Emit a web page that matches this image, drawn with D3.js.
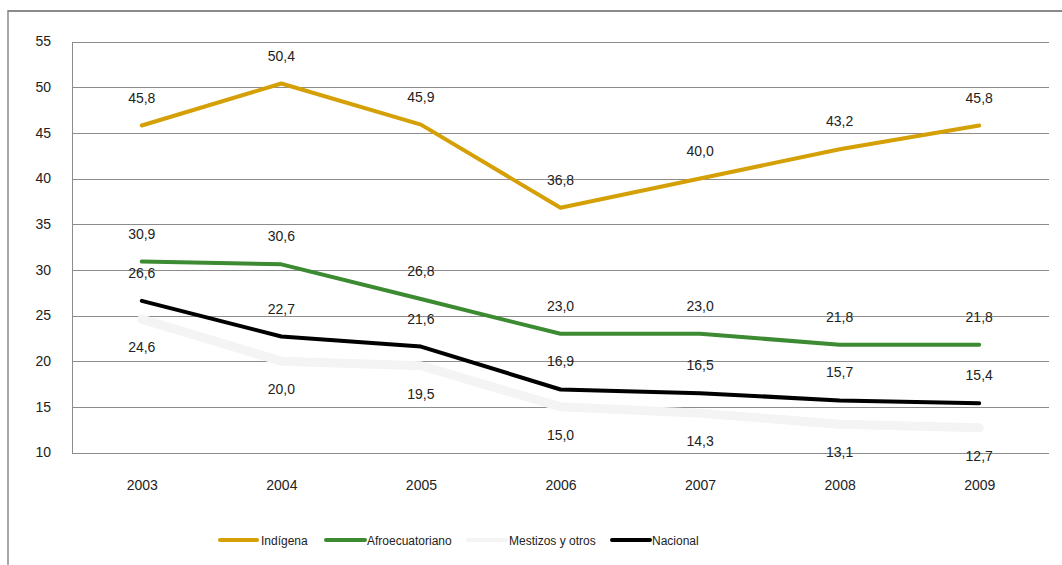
<!DOCTYPE html>
<html><head><meta charset="utf-8">
<script src="https://cdn.jsdelivr.net/npm/d3@7"></script>
<style>
html,body{margin:0;padding:0;background:#fff;}
svg{display:block;font-family:"Liberation Sans",Arial,sans-serif;}
</style></head>
<body>
<svg id="chart" width="1062" height="565"></svg>
<script>
const years = ["2003","2004","2005","2006","2007","2008","2009"];
const yTicks = [10,15,20,25,30,35,40,45,50,55];
const indigena = [45.8,50.4,45.9,36.8,40.0,43.2,45.8];
const afro = [30.9,30.6,26.8,23.0,23.0,21.8,21.8];
const mestizos = [24.6,20.0,19.5,15.0,14.3,13.1,12.7];
const nacional = [26.6,22.7,21.6,16.9,16.5,15.7,15.4];
const seriesNames = ["Indígena","Afroecuatoriano","Mestizos y otros","Nacional"];

const series = [
  {name:seriesNames[0], values:indigena, color:"#D4A006", width:4, labelPos:"above"},
  {name:seriesNames[1], values:afro, color:"#3C8A32", width:4, labelPos:"above"},
  {name:seriesNames[2], values:mestizos, color:"#F4F4F4", width:9, labelPos:"below"},
  {name:seriesNames[3], values:nacional, color:"#000000", width:4, labelPos:"above"}
];

const svg = d3.select("#chart");
const pLeft = 72, pRight = 1049, pTop = 41.5, pBottom = 452.5;

const x = d3.scalePoint().domain(years).range([pLeft, pRight]).padding(0.5);
const y = d3.scaleLinear().domain([10,55]).range([pBottom, pTop]);

// outer frame
svg.append("line").attr("x1",8).attr("x2",1062).attr("y1",11).attr("y2",11)
  .attr("stroke","#8a8a8a").attr("stroke-width",2);
svg.append("line").attr("x1",8).attr("x2",8).attr("y1",10).attr("y2",565)
  .attr("stroke","#8a8a8a").attr("stroke-width",1.5);

// gridlines
svg.append("g").selectAll("line").data(yTicks).join("line")
  .attr("x1",pLeft).attr("x2",pRight)
  .attr("y1",d=>Math.round(y(d))+0.5).attr("y2",d=>Math.round(y(d))+0.5)
  .attr("stroke","#8c8c8c").attr("stroke-width",1);
svg.append("line").attr("x1",pLeft+0.5).attr("x2",pLeft+0.5)
  .attr("y1",Math.round(y(55))+0.5).attr("y2",Math.round(y(10))+0.5)
  .attr("stroke","#8c8c8c").attr("stroke-width",1);

// y axis labels
const yAxis = d3.axisLeft(y).tickValues(yTicks).tickSize(0).tickPadding(0).tickFormat(d3.format("d"));
const yg = svg.append("g").attr("transform",`translate(51,0)`).call(yAxis);
yg.select(".domain").remove();
yg.selectAll("text").attr("font-size",14).attr("fill","#222").attr("font-family","Liberation Sans, Arial, sans-serif");

// x axis labels
const xAxis = d3.axisBottom(x).tickSize(0).tickPadding(0);
const xg = svg.append("g").attr("transform",`translate(0,480)`).call(xAxis);
xg.select(".domain").remove();
xg.selectAll("text").attr("font-size",14).attr("fill","#222").attr("font-family","Liberation Sans, Arial, sans-serif");

// lines
const line = d3.line().x((d,i)=>x(years[i])).y(d=>y(d));
const order = [2,0,1,3];
order.forEach(k=>{
  const s = series[k];
  svg.append("path").datum(s.values).attr("d",line)
    .attr("fill","none").attr("stroke",s.color).attr("stroke-width",s.width)
    .attr("stroke-linejoin","round").attr("stroke-linecap","round");
});

// data labels
const fmt = v => d3.format(".1f")(v).replace(".",",");
series.forEach(s=>{
  svg.append("g").selectAll("text").data(s.values).join("text")
    .attr("x",(d,i)=>x(years[i]))
    .attr("y",d=> s.labelPos==="above" ? y(d)-23 : y(d)+33)
    .attr("text-anchor","middle")
    .attr("font-size",14).attr("fill","#222")
    .text(d=>fmt(d));
});

// legend
const legendItems = [
  {x1:220,x2:257,tx:261},
  {x1:326,x2:365,tx:367},
  {x1:468,x2:506,tx:509},
  {x1:612,x2:650,tx:652}
];
const lg = svg.append("g");
series.forEach((s,i)=>{
  const L = legendItems[i];
  lg.append("line").attr("x1",L.x1).attr("x2",L.x2).attr("y1",540).attr("y2",540)
    .attr("stroke",s.color).attr("stroke-width",4).attr("stroke-linecap","round");
  lg.append("text").attr("x",L.tx).attr("y",544.5).attr("font-size",12).attr("fill","#222")
    .text(s.name);
});
</script>
</body></html>
